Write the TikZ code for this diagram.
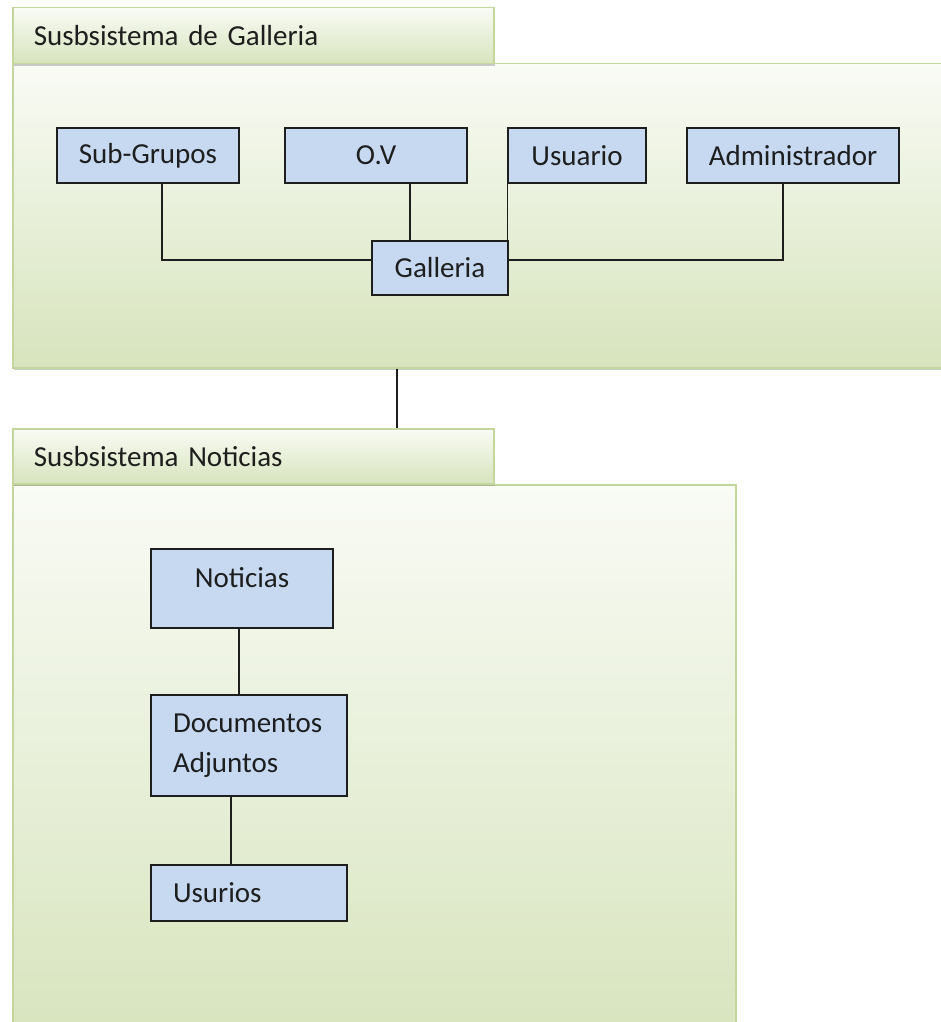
\documentclass[tikz,border=0pt]{standalone}
\usepackage{fontspec}
\setmainfont{Carlito}
\usepackage{xcolor}
\definecolor{verdeborde}{HTML}{C3D69B}
\definecolor{verdefondo}{HTML}{D7E4BD}
\definecolor{azulcaja}{HTML}{C6D9F1}
\definecolor{texto}{HTML}{1E1E1E}
\usepackage{tikz}
\usetikzlibrary{calc, shadows}

\begin{document}
\begin{tikzpicture}[x=1pt, y=-1pt,
        font=\fontsize{29}{35}\selectfont, text=texto,
        marco/.style={draw=verdeborde, line width=1.5pt, top color=white!85!verdefondo, bottom color=verdefondo,
            anchor=north west, inner sep=0pt, drop shadow={shadow xshift=1pt, shadow yshift=-2.5pt, opacity=.4}},
        pestana/.style={marco, minimum height=56pt, inner xsep=21pt, text width=439pt, align=left},
        caja/.style={draw=texto, line width=1.5pt, fill=azulcaja, inner sep=0pt, minimum height=55pt},
        link/.style={draw=texto, line width=1.5pt}]
    \useasboundingbox (0, 0) rectangle (940, 1022);

    % subsistema de galleria
    \node (galbody) at (12, 63) [marco, minimum width=940pt, minimum height=304pt] {};
    \node (galtab) at (12, 7) [pestana] {Susbsistema de Galleria};

    \node (subgrupos) at (148, 155.5) [caja, minimum width=182pt] {Sub-Grupos};
    \node (ov) at (376, 155.5) [caja, minimum width=182pt] {O.V};
    \node (usuario) at (577, 155.5) [caja, minimum width=138pt] {Usuario};
    \node (admin) at (793, 155.5) [caja, minimum width=212pt] {Administrador};
    \node (galleria) at (440, 268) [caja, minimum width=136pt, minimum height=54pt] {Galleria};

    \draw[link] ($(subgrupos.south)+(14, 0)$) |- ($(galleria.west)+(0, -8)$);
    \draw[link] ($(ov.south)+(34, 0)$) coordinate (ovfoot) -- (ovfoot |- galleria.north);
    \draw[link] (usuario.south west) -- (usuario.south west |- galleria.north);
    \draw[link] ($(admin.south)+(-10, 0)$) |- ($(galleria.east)+(0, -8)$);

    % subsistema noticias
    \node (notbody) at (12, 484) [marco, minimum width=723pt, minimum height=560pt] {};
    \node (nottab) at (12, 428) [pestana, minimum height=55pt] {Susbsistema Noticias};

    \draw[link] ($(galbody.south west)+(385, 0)$) coordinate (drop) -- (drop |- nottab.north);

    \node (noticias) at (242, 588.5) [caja, minimum width=182pt, text height=38pt, text depth=41pt] {Noticias};
    \node (docs) at (249, 745.5) [caja, minimum height=101pt, inner xsep=22pt, text width=152pt, align=left,
        font=\fontsize{29}{40}\selectfont] {Documentos\\Adjuntos};
    \node (usurios) at (249, 893) [caja, minimum height=56pt, inner xsep=22pt, text width=152pt, align=left] {Usurios};

    \draw[link] ($(noticias.south)+(-3, 0)$) coordinate (notfoot) -- (notfoot |- docs.north);
    \draw[link] ($(docs.south)+(-18, 0)$) coordinate (docfoot) -- (docfoot |- usurios.north);
\end{tikzpicture}
\end{document}
